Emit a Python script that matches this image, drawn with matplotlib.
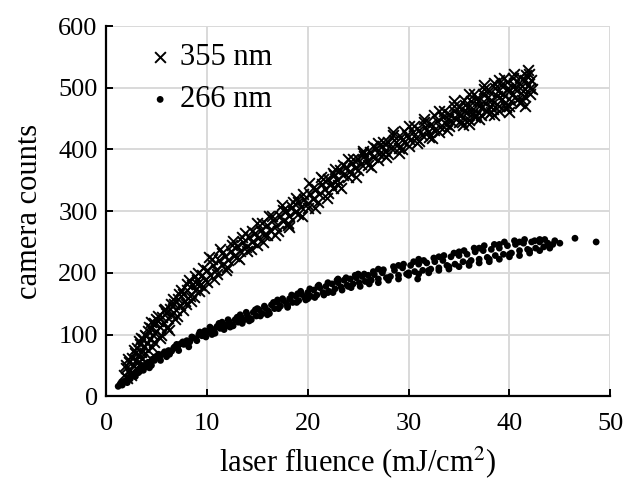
import matplotlib.pyplot as plt

# 355 nm data (x: laser fluence in mJ/cm2, y: camera counts)
x355 = [1.8, 2.0, 2.1, 2.3, 2.4, 2.6, 2.7, 2.9, 3.0, 3.1, 3.3, 3.4, 3.5, 3.7, 3.8, 4.0, 4.1, 4.2, 4.4, 4.5,
        4.7, 4.8, 5.0, 5.1, 5.3, 5.5, 5.7, 5.9, 6.1, 6.3, 6.5, 6.7, 6.9, 7.1, 7.3, 7.6, 7.8, 8.0, 8.3, 8.5,
        8.8, 9.0, 9.3, 9.5, 9.8, 10.0, 10.3, 10.6, 10.9, 11.2, 11.5, 11.8, 12.1, 12.4, 12.7, 13.0, 13.3, 13.6, 13.9, 14.2,
        14.5, 14.8, 15.1, 15.4, 15.7, 16.0, 16.3, 16.6, 16.9, 17.2, 17.5, 17.8, 18.1, 18.4, 18.0, 18.7, 19.0, 19.3, 19.6, 19.9,
        20.2, 20.5, 20.8, 21.1, 21.4, 21.7, 22.0, 22.5, 22.3, 22.6, 22.9, 23.2, 23.5, 23.8, 24.1, 24.4, 24.7, 25.0, 25.3, 25.6,
        25.9, 26.2, 26.5, 26.8, 27.1, 27.4, 27.7, 28.0, 28.3, 28.6, 28.9, 29.2, 29.5, 29.8, 30.1, 30.4, 30.7, 31.0, 31.3, 31.6,
        31.9, 32.2, 32.5, 32.8, 33.1, 33.4, 33.7, 34.0, 34.2, 34.5, 34.7, 35.0, 35.2, 35.4, 35.6, 35.8, 36.0, 36.2, 36.4, 36.6,
        36.8, 37.0, 37.2, 37.4, 37.6, 37.8, 38.0, 38.2, 38.4, 38.6, 38.8, 39.0, 39.2, 39.4, 39.6, 39.8, 40.0, 40.2, 40.4, 40.6,
        40.8, 41.0, 41.2, 41.4, 41.6, 41.8, 42.0, 42.1, 41.5, 40.0, 38.5, 27.5, 29.0, 9.0, 6.0]
y355 = [35, 45, 30, 55, 42, 62, 50, 70, 58, 78, 66, 85, 72, 92, 80, 98, 86, 105, 92, 110,
        100, 118, 105, 122, 112, 128, 118, 135, 126, 142, 133, 150, 140, 158, 148, 165, 155, 172, 163, 180,
        172, 188, 180, 196, 188, 205, 196, 212, 204, 220, 212, 228, 220, 236, 228, 243, 235, 250, 242, 258,
        250, 264, 256, 270, 262, 278, 270, 285, 276, 292, 284, 300, 292, 306, 280, 298, 314, 306, 320, 312,
        328, 320, 336, 328, 344, 336, 352, 337, 344, 358, 350, 366, 358, 372, 364, 378, 370, 385, 376, 390,
        382, 396, 388, 402, 392, 406, 398, 412, 402, 416, 408, 420, 412, 424, 416, 428, 418, 432, 424, 436,
        428, 442, 432, 446, 436, 452, 442, 458, 446, 462, 450, 468, 455, 440, 472, 460, 448, 478, 465, 452,
        484, 470, 456, 490, 476, 462, 495, 480, 466, 500, 486, 470, 505, 490, 475, 510, 494, 478, 515, 498,
        482, 518, 502, 486, 520, 505, 490, 512, 470, 460, 455, 392, 395, 182, 112]
# second pass of 355 nm readings (spread of the band)
x355b = [2.2, 2.5, 2.8, 3.0, 3.3, 3.6, 3.9, 4.2, 4.5, 4.8, 5.1, 5.4, 5.7, 6.0, 6.4, 6.8, 7.2, 7.6, 8.0, 8.4,
         8.8, 9.2, 9.6, 10.0, 10.5, 11.0, 11.5, 12.0, 12.5, 13.0, 13.5, 14.0, 14.5, 15.0, 15.5, 16.0, 16.5, 17.0, 17.5, 18.0,
         18.5, 19.0, 19.5, 20.0, 20.5, 21.0, 21.5, 22.0, 22.5, 23.0, 23.5, 24.0, 24.5, 25.0, 25.5, 26.0, 26.5, 27.0, 27.5, 28.0,
         28.5, 29.0, 29.5, 30.0, 30.5, 31.0, 31.5, 32.0, 32.5, 33.0, 33.5, 34.0, 34.5, 35.0, 35.5, 36.0, 36.5, 37.0, 37.5, 38.0,
         38.5, 39.0, 39.5, 40.0, 40.5, 41.0, 41.5, 42.0, 41.9, 40.9, 39.9, 38.9, 37.9, 36.9, 35.9, 34.9, 33.9, 36.3, 37.3, 38.3,
         39.3, 40.3, 41.3, 35.5]
y355b = [60, 35, 75, 45, 90, 60, 100, 75, 120, 88, 130, 100, 140, 110, 150, 125, 165, 140, 182, 155,
         195, 170, 208, 185, 222, 198, 232, 210, 245, 225, 258, 236, 268, 245, 280, 262, 292, 268, 302, 278,
         315, 296, 328, 305, 338, 315, 352, 330, 362, 342, 375, 355, 385, 366, 398, 374, 405, 383, 412, 392,
         424, 402, 430, 405, 438, 414, 445, 420, 455, 428, 462, 438, 470, 445, 480, 442, 490, 450, 498, 458,
         508, 462, 515, 470, 522, 475, 512, 500, 522, 508, 500, 495, 485, 478, 468, 458, 450, 458, 468, 474,
         482, 488, 495, 462]
# third pass of 355 nm readings (outer edges of the band)
x355c = [2.0, 2.6, 3.2, 3.5, 3.9, 4.3, 4.6, 5.0, 5.3, 5.8, 6.2, 6.6, 7.0, 7.4, 7.9, 8.2, 8.7, 9.1, 9.7, 10.2,
         10.7, 11.3, 11.9, 12.6, 13.2, 13.8, 14.4, 15.0, 15.6, 16.2, 16.8, 17.4, 18.1, 18.8, 19.4, 20.1, 20.7, 21.3, 21.9, 22.7,
         23.3, 24.0, 24.8, 25.5, 26.3, 27.0, 27.8, 28.5, 29.3, 30.0, 30.8, 31.5, 32.3, 33.0, 33.8, 34.5, 35.3, 36.0, 36.7, 37.5,
         38.2, 39.0, 39.7, 40.5, 41.2, 41.8, 42.2]
y355c = [50, 40, 55, 95, 70, 112, 80, 125, 95, 142, 108, 158, 130, 172, 150, 188, 160, 200, 175, 225,
         190, 238, 205, 252, 222, 265, 238, 280, 250, 292, 262, 310, 275, 322, 292, 345, 305, 355, 322, 368,
         338, 385, 355, 395, 372, 410, 388, 428, 400, 438, 410, 450, 418, 462, 432, 478, 445, 490, 455, 505,
         460, 512, 468, 505, 480, 528, 498]

# 266 nm data
x266 = [1.2, 1.4, 1.6, 1.8, 2.0, 2.2, 2.4, 2.6, 2.8, 3.0, 3.2, 3.4, 3.6, 3.8, 4.0, 4.2, 4.4, 4.6, 4.8, 5.0,
        5.3, 5.6, 5.9, 6.2, 6.5, 6.8, 7.1, 7.4, 7.7, 8.0, 8.3, 8.6, 8.9, 9.2, 9.5, 9.8, 10.1, 10.4, 10.7, 11.0,
        11.3, 11.6, 11.9, 12.2, 12.5, 12.8, 13.1, 13.4, 13.7, 14.0, 14.3, 14.6, 14.9, 15.2, 15.5, 15.8, 16.1, 16.4, 16.7, 17.0,
        17.3, 17.6, 17.9, 18.2, 18.5, 18.8, 19.1, 19.4, 19.7, 20.0, 20.3, 20.6, 20.9, 21.2, 21.5, 21.8, 22.1, 22.4, 22.7, 23.0,
        23.3, 23.6, 23.9, 24.2, 24.5, 24.8, 25.1, 25.4, 25.7, 26.0, 26.3, 26.6, 27.0, 27.4, 27.8, 28.2, 28.6, 29.0, 29.4, 29.8,
        30.2, 30.6, 30.9, 31.0, 31.4, 31.8, 32.2, 32.6, 33.0, 33.4, 33.8, 34.2, 34.6, 35.0, 35.4, 35.8, 36.2, 36.6, 37.0, 37.4,
        37.8, 38.2, 38.6, 39.0, 39.4, 39.8, 40.2, 40.6, 41.0, 41.4, 41.8, 42.2, 42.6, 43.0, 43.4, 43.8, 44.3, 45.0, 46.5, 48.6]
y266 = [16, 20, 18, 24, 26, 30, 28, 34, 36, 40, 38, 45, 46, 50, 48, 55, 54, 60, 58, 64,
        62, 68, 70, 74, 73, 80, 78, 85, 84, 90, 88, 95, 93, 100, 98, 106, 104, 110, 106, 113,
        110, 117, 114, 121, 116, 124, 120, 128, 124, 132, 126, 136, 130, 140, 134, 143, 138, 148, 142, 152,
        146, 155, 150, 158, 152, 162, 155, 165, 160, 168, 162, 172, 164, 176, 168, 178, 170, 182, 174, 184,
        177, 188, 180, 190, 182, 192, 184, 194, 186, 196, 188, 197, 190, 200, 192, 194, 204, 196, 208, 198,
        212, 202, 190, 214, 204, 216, 206, 218, 208, 220, 212, 226, 214, 228, 218, 230, 220, 234, 222, 236,
        225, 238, 228, 240, 230, 244, 232, 246, 236, 248, 238, 250, 240, 250, 242, 248, 246, 248, 256, 250]
# second pass of 266 nm readings
x266b = [1.5, 2.1, 2.5, 2.9, 3.3, 3.7, 4.1, 4.5, 4.9, 5.4, 5.8, 6.3, 6.7, 7.2, 7.6, 8.1, 8.5, 9.0, 9.4, 9.9,
         10.3, 10.8, 11.2, 11.7, 12.1, 12.6, 13.0, 13.5, 13.9, 14.4, 14.8, 15.3, 15.7, 16.2, 16.6, 17.1, 17.5, 18.0, 18.4, 18.9,
         19.3, 19.8, 20.2, 20.7, 21.1, 21.6, 22.0, 22.5, 22.9, 23.4, 23.8, 24.3, 24.7, 25.2, 25.6, 26.1, 26.5, 27.0, 27.5, 28.0,
         28.5, 29.0, 29.5, 30.0, 30.5, 31.0, 31.5, 32.0, 32.5, 33.0, 33.5, 34.0, 34.5, 35.0, 35.5, 36.0, 36.5, 37.0, 37.5, 38.0,
         38.5, 39.0, 39.5, 40.0, 40.5, 41.0, 41.5, 42.0, 42.5, 43.0, 43.5, 44.0, 44.5]
y266b = [22, 22, 34, 32, 44, 42, 54, 50, 64, 58, 72, 68, 78, 74, 88, 84, 96, 90, 102, 96,
         112, 102, 118, 108, 124, 114, 128, 118, 136, 124, 140, 130, 146, 134, 152, 142, 158, 146, 164, 152,
         170, 156, 174, 160, 180, 164, 184, 168, 188, 172, 192, 176, 196, 178, 198, 182, 202, 184, 205, 188,
         210, 190, 214, 196, 218, 198, 220, 200, 224, 204, 228, 206, 232, 210, 236, 212, 240, 216, 244, 218,
         246, 222, 250, 226, 252, 228, 254, 232, 252, 236, 254, 240, 252]
# third pass of 266 nm readings
x266c = [3.5, 4.3, 5.2, 6.0, 7.0, 8.2, 9.3, 10.5, 11.5, 12.3, 13.3, 14.2, 15.0, 16.0, 17.0, 18.0, 19.0, 20.0, 21.0, 22.0,
         23.0, 24.0, 25.0, 26.0, 27.0, 28.0, 29.0, 30.0, 31.0, 32.0, 33.0, 34.0, 35.0, 36.0, 37.0, 38.0, 39.0, 40.0, 41.0, 42.0,
         43.0, 44.0]
y266c = [50, 46, 68, 64, 84, 80, 104, 100, 120, 112, 132, 122, 142, 132, 156, 144, 166, 158, 178, 168,
         190, 178, 198, 186, 206, 192, 212, 200, 222, 204, 226, 210, 234, 216, 240, 222, 246, 230, 250, 236,
         254, 244]

plt.rcParams['font.family'] = ['Liberation Serif', 'DejaVu Serif']
plt.rcParams['mathtext.fontset'] = 'stix'

fig = plt.figure(figsize=(6.24, 4.82), dpi=100)
ax = fig.add_axes([0.170, 0.178, 0.808, 0.768])

ax.scatter(x355 + x355b + x355c, y355 + y355b + y355c, marker='x', s=60, color='black',
           linewidths=1.4, label='355 nm', zorder=3)
ax.scatter(x266 + x266b + x266c, y266 + y266b + y266c, marker='o', s=24, color='black',
           edgecolors='none', label='266 nm', zorder=3)

ax.set_xlim(0, 50)
ax.set_ylim(0, 600)
ax.set_xticks([0, 10, 20, 30, 40, 50])
ax.set_yticks([0, 100, 200, 300, 400, 500, 600])
ax.grid(True, color='#d9d9d9', linewidth=1.4)
ax.set_axisbelow(True)
for s in ['top', 'right']:
    ax.spines[s].set_visible(False)
for s in ['left', 'bottom']:
    ax.spines[s].set_linewidth(1.6)
ax.tick_params(axis='both', direction='in', length=5, width=1.4, labelsize=19)
ax.tick_params(axis='x', pad=12)
ax.tick_params(axis='y', pad=6)

ax.set_xlabel('laser fluence (mJ/cm$^2$)', fontsize=22, labelpad=7)
ax.set_ylabel('camera counts', fontsize=22, labelpad=10)

ax.legend(loc='upper left', frameon=False, fontsize=22, handletextpad=0.25, handlelength=0.8,
          borderpad=0, borderaxespad=0, labelspacing=0.45, bbox_to_anchor=(0.083, 0.955))

plt.savefig('out.png', dpi=100)
